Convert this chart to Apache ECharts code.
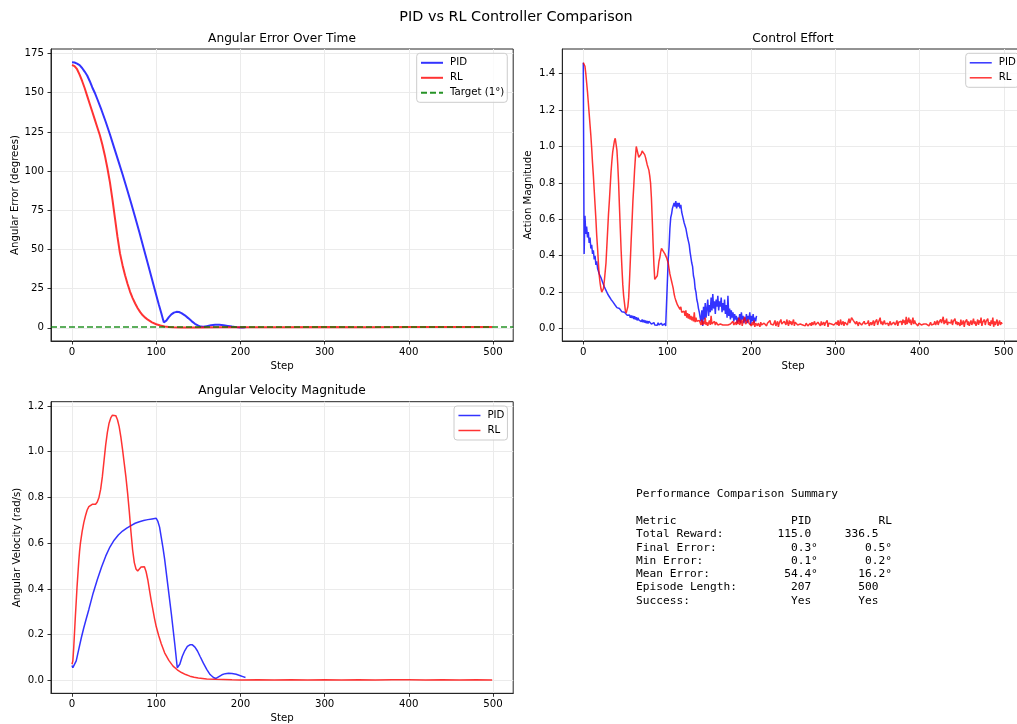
<!DOCTYPE html>
<html>
<head>
<meta charset="utf-8">
<script src="https://cdn.jsdelivr.net/npm/echarts@6/dist/echarts.min.js"></script>
<style>
html,body{margin:0;padding:0;background:#fff;}
#chart{width:1017px;height:724px;}
</style>
</head>
<body>
<div id="chart"></div>
<script>
// ---------------- data ----------------
const stepTicks = [0, 100, 200, 300, 400, 500];
const errTicks = [0, 25, 50, 75, 100, 125, 150, 175];
const effortTicks = [0, 0.2, 0.4, 0.6, 0.8, 1.0, 1.2, 1.4];
const velTicks = [0, 0.2, 0.4, 0.6, 0.8, 1.0, 1.2];
const targetError = 1;

// Angular error [step, degrees]
const errPID = [[0,169.5],[3,169.3],[6,168.6],[9,167.6],[12,165.8],[15,163.5],[18,161],[21,157.5],[24,153.5],[27,150],[30,146],[35,139],[40,131.5],[45,123.5],[50,115],[55,106.5],[60,98],[65,89],[70,80],[75,70.5],[80,61],[85,51],[90,41],[95,31],[100,21],[103,15],[106,9.5],[108,5.5],[109,3.5],[110,3.2],[112,4.6],[115,6.8],[118,8.6],[121,9.7],[124,10.2],[127,10.1],[130,9.4],[134,8],[138,6.2],[142,4.3],[146,2.6],[150,1.4],[153,0.8],[156,0.7],[160,1.1],[165,1.6],[170,1.9],[175,1.9],[180,1.6],[185,1.2],[190,0.8],[195,0.45],[200,0.2],[203,0.15],[206,0.3]];
const errRL = [[0,167.7],[3,167],[6,165],[9,161.5],[12,157.5],[15,153],[18,148],[21,143],[24,138],[27,133],[30,128],[33,123],[36,117],[39,110],[42,102],[45,93],[48,82],[51,70],[54,58],[57,47.5],[60,40],[63,33.5],[66,28],[69,23],[72,19],[75,15.5],[78,12.5],[81,10],[84,8],[87,6.5],[90,5.2],[95,3.5],[100,2.3],[105,1.5],[110,0.9],[115,0.55],[120,0.35],[130,0.2],[150,0.2],[175,0.3],[200,0.35],[250,0.45],[300,0.5],[350,0.45],[400,0.5],[450,0.5],[499,0.5]];

// Control effort, one value per step
const effortPID = [1.46,0.41,0.62,0.52,0.56,0.50,0.53,0.47,0.50,0.44,
0.46,0.41,0.43,0.38,0.40,0.35,0.37,0.33,0.34,0.30,
0.31,0.28,0.27,0.255,0.25,0.23,0.225,0.21,0.205,0.19,
0.185,0.175,0.17,0.16,0.155,0.148,0.14,0.14,0.128,0.13,
0.115,0.125,0.108,0.11,0.10,0.105,0.092,0.098,0.086,0.09,
0.08,0.085,0.074,0.08,0.068,0.075,0.06,0.072,0.058,0.07,
0.052,0.068,0.05,0.062,0.045,0.06,0.048,0.04,0.055,0.038,
0.05,0.035,0.047,0.033,0.044,0.03,0.042,0.028,0.04,0.03,
0.037,0.025,0.035,0.022,0.033,0.02,0.03,0.024,0.018,0.032,
0.02,0.028,0.015,0.03,0.018,0.026,0.016,0.027,0.015,0.025,
0.012,0.38,0.45,0.55,0.61,0.63,0.66,0.65,0.69,0.67,
0.70,0.66,0.69,0.67,0.69,0.66,0.68,0.64,0.62,0.63,
0.58,0.59,0.55,0.54,0.50,0.48,0.46,0.42,0.41,0.36,
0.34,0.29,0.27,0.22,0.20,0.16,0.14,0.11,0.09,0.06,
0.04,0.10,0.015,0.12,0.05,0.14,0.06,0.11,0.16,0.07,
0.13,0.09,0.17,0.10,0.19,0.11,0.15,0.08,0.16,0.12,
0.18,0.10,0.15,0.12,0.17,0.09,0.14,0.10,0.16,0.08,
0.13,0.06,0.18,0.07,0.11,0.05,0.10,0.06,0.09,0.04,
0.08,0.05,0.07,0.03,0.06,0.04,0.08,0.03,0.09,0.05,
0.07,0.03,0.06,0.04,0.08,0.03,0.07,0.05,0.09,0.02,
0.07,0.04,0.08,0.03,0.06,0.04,0.07];
const effortRL = [1.46,1.45,1.44,1.40,1.35,1.30,1.24,1.18,1.12,1.06,
0.99,0.91,0.84,0.76,0.68,0.60,0.51,0.44,0.36,0.29,
0.25,0.22,0.20,0.20,0.22,0.26,0.31,0.36,0.45,0.54,
0.63,0.70,0.78,0.86,0.92,0.97,1.00,1.03,1.045,1.04,
0.98,0.90,0.80,0.67,0.55,0.43,0.33,0.24,0.18,0.14,
0.10,0.085,0.09,0.12,0.17,0.27,0.38,0.49,0.59,0.70,
0.78,0.87,0.94,1.00,0.99,0.96,0.94,0.935,0.95,0.96,
0.975,0.98,0.97,0.955,0.94,0.92,0.90,0.89,0.87,0.84,
0.80,0.72,0.60,0.47,0.35,0.27,0.26,0.27,0.29,0.33,
0.37,0.39,0.42,0.44,0.43,0.425,0.415,0.41,0.40,0.39,
0.375,0.36,0.33,0.30,0.28,0.26,0.24,0.22,0.19,0.17,
0.155,0.15,0.13,0.14,0.12,0.105,0.12,0.09,0.10,0.08,
0.095,0.07,0.10,0.06,0.085,0.055,0.08,0.05,0.07,0.045,
0.065,0.04,0.09,0.035,0.06,0.04,0.05,0.03,0.045,0.035,
0.02,
0.05,0.02,0.04,0.025,0.06,0.02,0.035,0.015,0.03,0.045,0.02,0.07,0.025,0.03,0.015,0.04,0.02,0.035,0.025,0.02,
0.03,0.015,0.025,0.02,0.035,0.02,0.015,0.03,0.02,0.025,0.015,0.02,0.03,0.02,0.025,0.015,0.03,0.04,0.02,0.025,
0.035,0.02,0.045,0.025,0.06,0.02,0.03,0.05,0.015,0.04,0.03,0.065,0.025,0.035,0.02,0.05,0.03,0.02,0.04,0.015,
0.035,0.02,0.045,0.01,0.03,0.025,0.015,0.03,0.02,0.01,0.035,0.02,0.025,0.015,0.03,0.02,0.04,0.015,0.03,0.035,
0.02,0.045,0.025,0.015,0.035,0.02,0.03,0.045,0.015,0.025,0.04,0.01,0.03,0.02,0.05,0.025,0.035,0.015,0.04,0.03,
0.02,0.05,0.03,0.015,0.045,0.025,0.04,0.02,0.03,0.05,0.015,0.035,0.025,0.045,0.02,0.03,0.01,0.025,0.035,0.015,
0.02,0.01,0.025,0.015,0.03,0.02,0.015,0.025,0.02,0.03,0.015,0.035,0.02,0.025,0.04,0.02,0.03,0.015,0.035,0.025,
0.03,0.015,0.04,0.02,0.025,0.035,0.015,0.03,0.02,0.045,0.01,0.03,0.02,0.04,0.025,0.015,0.035,0.02,0.03,0.01,
0.035,0.02,0.045,0.015,0.03,0.05,0.02,0.025,0.04,0.015,0.035,0.025,0.045,0.02,0.03,0.055,0.03,0.04,0.06,0.07,
0.045,0.035,0.055,0.025,0.04,0.03,0.015,0.035,0.025,0.045,0.02,0.03,0.015,0.04,0.025,0.035,0.02,0.03,0.045,0.015,
0.025,0.035,0.02,0.03,0.045,0.015,0.035,0.025,0.05,0.02,0.035,0.03,0.06,0.025,0.04,0.02,0.03,0.045,0.025,0.035,
0.02,0.03,0.015,0.025,0.04,0.02,0.03,0.015,0.035,0.025,0.02,0.03,0.045,0.015,0.035,0.025,0.03,0.04,0.02,0.05,
0.03,0.045,0.02,0.065,0.025,0.04,0.06,0.03,0.05,0.02,0.035,0.06,0.025,0.045,0.03,0.02,0.04,0.015,0.03,0.025,
0.035,0.02,0.03,0.015,0.025,0.02,0.015,0.025,0.02,0.03,0.015,0.025,0.035,0.02,0.03,0.015,0.025,0.04,0.02,0.03,
0.045,0.02,0.035,0.025,0.05,0.03,0.04,0.065,0.025,0.045,0.03,0.055,0.02,0.035,0.045,0.025,0.03,0.05,0.02,0.04,
0.03,0.055,0.025,0.04,0.02,0.035,0.045,0.015,0.05,0.02,0.03,0.045,0.01,0.035,0.025,0.05,0.02,0.04,0.015,0.03,
0.045,0.02,0.035,0.055,0.025,0.04,0.015,0.03,0.05,0.02,0.045,0.03,0.06,0.015,0.035,0.025,0.05,0.02,0.04,0.03,
0.055,0.02,0.035,0.015,0.045,0.025,0.06,0.01,0.04,0.02,0.035,0.05,0.015,0.03,0.045,0.02,0.035,0.025,0.03];

// Angular velocity magnitude [step, rad/s]
const velPID = [[0,0.065],[1,0.055],[2,0.048],[3,0.055],[5,0.085],[8,0.135],[11,0.185],[14,0.23],[17,0.27],[20,0.31],[25,0.38],[30,0.44],[35,0.495],[40,0.543],[45,0.583],[50,0.613],[55,0.636],[60,0.653],[65,0.666],[70,0.677],[75,0.687],[80,0.694],[85,0.699],[90,0.703],[95,0.706],[100,0.709],[102,0.695],[104,0.67],[106,0.625],[108,0.58],[110,0.53],[114,0.41],[118,0.29],[122,0.16],[125,0.055],[126,0.05],[128,0.07],[131,0.105],[134,0.13],[137,0.148],[140,0.155],[143,0.155],[146,0.145],[149,0.128],[152,0.105],[156,0.075],[160,0.048],[164,0.025],[168,0.012],[171,0.008],[174,0.015],[178,0.024],[182,0.029],[186,0.031],[190,0.03],[195,0.026],[200,0.02],[203,0.016],[206,0.012]];
const velRL = [[0,0.07],[1,0.085],[2,0.14],[3,0.21],[4,0.28],[5,0.345],[6,0.41],[7,0.465],[8,0.52],[9,0.565],[10,0.6],[11,0.625],[12,0.65],[14,0.69],[16,0.72],[18,0.745],[20,0.76],[22,0.768],[24,0.77],[26,0.769],[28,0.77],[30,0.78],[32,0.8],[34,0.835],[36,0.89],[38,0.96],[40,1.03],[42,1.085],[44,1.125],[46,1.148],[48,1.16],[50,1.163],[52,1.158],[54,1.14],[56,1.11],[58,1.065],[60,1.01],[62,0.95],[64,0.89],[66,0.82],[68,0.74],[70,0.65],[72,0.57],[74,0.515],[76,0.487],[78,0.478],[80,0.482],[82,0.496],[84,0.503],[86,0.497],[88,0.475],[90,0.44],[92,0.395],[94,0.35],[96,0.31],[98,0.27],[100,0.235],[103,0.195],[106,0.16],[110,0.12],[115,0.087],[120,0.062],[125,0.046],[130,0.034],[135,0.025],[140,0.018],[145,0.013],[150,0.01],[160,0.006],[170,0.004],[180,0.003],[190,0.002],[200,0.0015],[220,0.002],[240,0.001],[260,0.0025],[280,0.001],[300,0.002],[320,0.0015],[340,0.0025],[360,0.001],[380,0.002],[400,0.0025],[420,0.001],[440,0.002],[460,0.0015],[480,0.002],[499,0.001]];

// Summary table
const summaryTitle = 'Performance Comparison Summary';
const summaryHeader = ['Metric', 'PID', 'RL'];
const metricNames = ['Total Reward:', 'Final Error:', 'Min Error:', 'Mean Error:', 'Episode Length:', 'Success:'];
const pidValues = ['115.0', '0.3', '0.1', '54.4', '207', 'Yes'];
const rlValues = ['336.5', '0.5', '0.2', '16.2', '500', 'Yes'];
const metricUnits = ['', '°', '°', '°', '', ''];

// ---------------- chart ----------------
const FONT = 'DejaVu Sans';
const PID_COLOR = 'rgba(0,0,255,0.8)';
const RL_COLOR = 'rgba(255,0,0,0.8)';
const TGT_COLOR = 'rgba(0,128,0,0.85)';
const X_MIN = -24.95, X_MAX = 523.95;

const withSteps = arr => arr.map((v, i) => [i, v]);

function xAxisCfg(gridIndex) {
  return {
    type: 'value', gridIndex, min: X_MIN, max: X_MAX, position: 'bottom',
    name: 'Step', nameLocation: 'middle', nameGap: 20.5,
    nameTextStyle: {fontFamily: FONT, fontSize: 10.2, color: '#000'},
    axisLine: {show: true, onZero: false, lineStyle: {color: '#262626', width: 1}},
    axisTick: {show: true, inside: false, length: 3.5, customValues: stepTicks, lineStyle: {color: '#000', width: 0.8}},
    axisLabel: {customValues: stepTicks, margin: 6.5, fontFamily: FONT, fontSize: 10.2, color: '#000'},
    splitLine: {show: true, lineStyle: {color: '#ebebeb', width: 1}}
  };
}
function yAxisCfg(gridIndex, name, min, max, ticks, fmt, gap) {
  return {
    type: 'value', gridIndex, min, max, position: 'left',
    name, nameLocation: 'middle', nameGap: gap, nameRotate: 90,
    nameTextStyle: {fontFamily: FONT, fontSize: 10.2, color: '#000'},
    axisLine: {show: true, onZero: false, lineStyle: {color: '#262626', width: 1}},
    axisTick: {show: true, inside: false, length: 3.5, customValues: ticks, lineStyle: {color: '#000', width: 0.8}},
    axisLabel: {customValues: ticks, margin: 7, fontFamily: FONT, fontSize: 10.2, color: '#000', formatter: fmt},
    splitLine: {show: true, lineStyle: {color: '#ebebeb', width: 1}}
  };
}
function legendCfg(left, top, names, lineWidth, padding) {
  return {
    orient: 'vertical', left, top, data: names,
    itemWidth: 22, itemHeight: 10, itemGap: 5, padding,
    backgroundColor: 'rgba(255,255,255,0.8)', borderColor: '#cccccc', borderWidth: 1, borderRadius: 3,
    itemStyle: {opacity: 0},
    lineStyle: {width: lineWidth},
    selectedMode: false,
    textStyle: {fontFamily: FONT, fontSize: 10.2, color: '#000', padding: [0, 0, 0, 2]}
  };
}
function lineSeries(name, data, xi, color, width) {
  return {
    name, type: 'line', xAxisIndex: xi, yAxisIndex: xi, data,
    showSymbol: false, symbol: 'none', smooth: false,
    lineStyle: {color, width}, itemStyle: {color},
    emphasis: {disabled: true}, silent: true, z: 3
  };
}

const summaryLines = [summaryTitle, '',
  summaryHeader[0].padEnd(16) + summaryHeader[1].padStart(10) + summaryHeader[2].padStart(12)]
  .concat(metricNames.map((m, i) => m.padEnd(16) + pidValues[i].padStart(10) + metricUnits[i] + rlValues[i].padStart(10) + metricUnits[i]));

const chart = echarts.init(document.getElementById('chart'), null, {renderer: 'canvas'});
const gridBase = {show: true, borderColor: '#262626', borderWidth: 1, backgroundColor: '#fff', containLabel: false, outerBoundsMode: 'none'};
chart.setOption({
  animation: false,
  backgroundColor: '#fff',
  grid: [
    Object.assign({left: 51, top: 49, width: 462.2, height: 292}, gridBase),
    Object.assign({left: 562.3, top: 49, width: 461.6, height: 292}, gridBase),
    Object.assign({left: 51, top: 401.7, width: 462.2, height: 291.6}, gridBase)
  ],
  xAxis: [xAxisCfg(0), xAxisCfg(1), xAxisCfg(2)],
  yAxis: [
    yAxisCfg(0, 'Angular Error (degrees)', -8.4, 177.9, errTicks, v => String(v), 31),
    yAxisCfg(1, 'Action Magnitude', -0.068, 1.535, effortTicks, v => v.toFixed(1), 28.5),
    yAxisCfg(2, 'Angular Velocity (rad/s)', -0.057, 1.219, velTicks, v => v.toFixed(1), 28.5)
  ],
  legend: [
    legendCfg(416.7, 53.3, ['PID', 'RL', 'Target (1°)'], 2, [4.5, 3, 4.5, 3.3]),
    legendCfg(965.7, 53.3, ['PID', 'RL'], 1.5, [4.5, 3, 4.5, 3.3]),
    legendCfg(454, 406, ['PID', 'RL'], 1.5, [4.5, 3, 4.5, 3.7])
  ],
  series: [
    lineSeries('PID', errPID, 0, PID_COLOR, 2),
    lineSeries('RL', errRL, 0, RL_COLOR, 2),
    {
      name: 'Target (1°)', type: 'line', xAxisIndex: 0, yAxisIndex: 0, data: [],
      symbol: 'none', showSymbol: false, silent: true,
      lineStyle: {color: TGT_COLOR, width: 1.6, type: [6, 3]}, itemStyle: {color: TGT_COLOR},
      markLine: {
        symbol: 'none', silent: true, animation: false, label: {show: false},
        lineStyle: {color: TGT_COLOR, width: 1.6, type: [6, 3]},
        emphasis: {disabled: true},
        data: [{yAxis: targetError}]
      }
    },
    lineSeries('PID', withSteps(effortPID), 1, PID_COLOR, 1.5),
    lineSeries('RL', withSteps(effortRL), 1, RL_COLOR, 1.5),
    lineSeries('PID', velPID, 2, PID_COLOR, 1.5),
    lineSeries('RL', velRL, 2, RL_COLOR, 1.5)
  ],
  graphic: [
    {type: 'text', x: 516, y: 17, silent: true, style: {text: 'PID vs RL Controller Comparison', fontFamily: FONT, fontSize: 14.4, fill: '#000', align: 'center', verticalAlign: 'middle'}},
    {type: 'text', x: 282, y: 38.5, silent: true, style: {text: 'Angular Error Over Time', fontFamily: FONT, fontSize: 12.2, fill: '#000', align: 'center', verticalAlign: 'middle'}},
    {type: 'text', x: 793, y: 38.5, silent: true, style: {text: 'Control Effort', fontFamily: FONT, fontSize: 12.2, fill: '#000', align: 'center', verticalAlign: 'middle'}},
    {type: 'text', x: 282, y: 391, silent: true, style: {text: 'Angular Velocity Magnitude', fontFamily: FONT, fontSize: 12.2, fill: '#000', align: 'center', verticalAlign: 'middle'}},
    {type: 'text', x: 636, y: 487.8, silent: true, style: {text: summaryLines.join('\n'), fontFamily: 'DejaVu Sans Mono', fontSize: 11.2, lineHeight: 13.3, fill: '#000', align: 'left', verticalAlign: 'top'}}
  ]
});
</script>
</body>
</html>
